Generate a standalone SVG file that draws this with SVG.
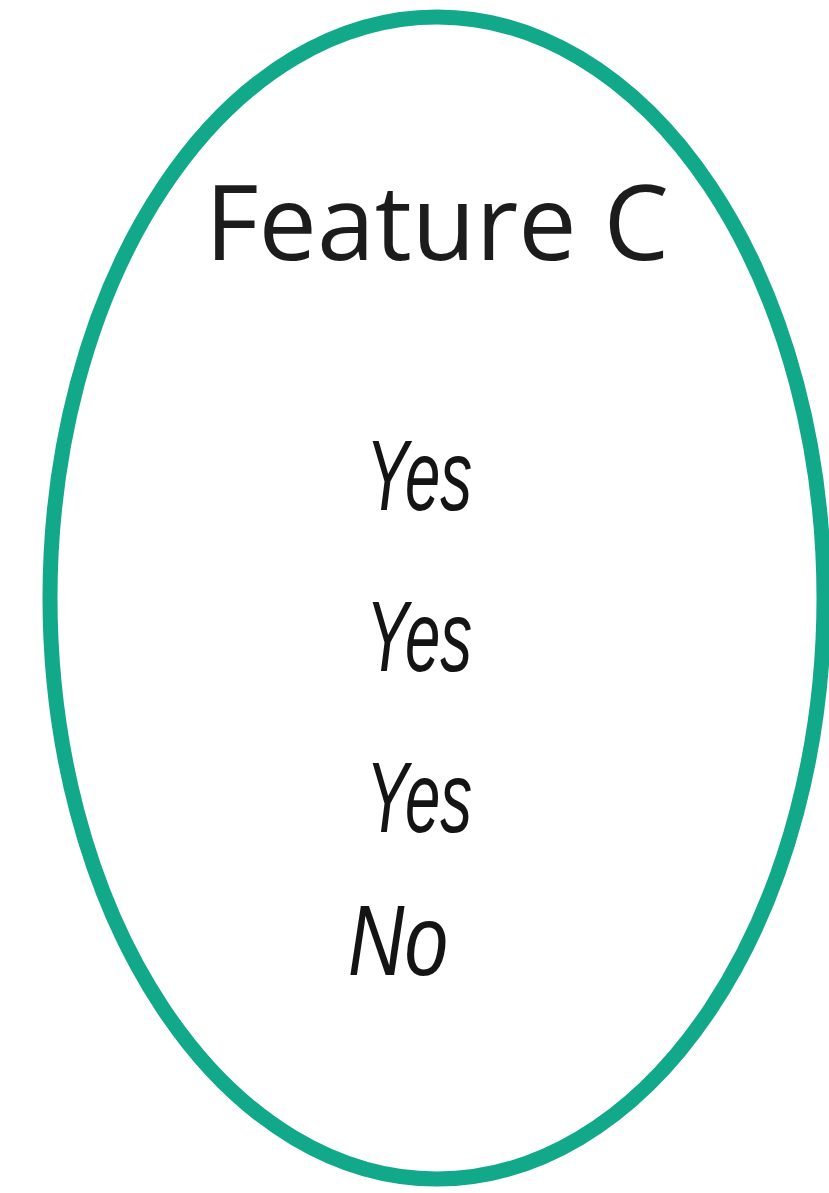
<svg xmlns="http://www.w3.org/2000/svg" width="829" height="1193" viewBox="0 0 829 1193">
  <style>
    .outline { fill: none; stroke: #12a88a; stroke-width: 15; }
    .title { font-family: "Open Sans", "Noto Sans", sans-serif; font-size: 104px; fill: #1c1c1c; }
    .hand { font-family: "Liberation Sans", "DejaVu Sans", sans-serif; font-style: italic; font-size: 100px; fill: #141414; }
  </style>
  <rect width="829" height="1193" fill="#ffffff"/>
  <g id="feature-c">
    <ellipse class="outline" cx="437" cy="598" rx="387" ry="581"/>
    <text class="title" x="437" y="260" text-anchor="middle">Feature C</text>
  </g>
  <g id="values">
    <text class="hand" x="366" y="510" textLength="106" lengthAdjust="spacingAndGlyphs">Yes</text>
    <text class="hand" x="366" y="671" textLength="106" lengthAdjust="spacingAndGlyphs">Yes</text>
    <text class="hand" x="366" y="832" textLength="106" lengthAdjust="spacingAndGlyphs">Yes</text>
    <text class="hand" x="348" y="975" textLength="100" lengthAdjust="spacingAndGlyphs">No</text>
  </g>
</svg>
